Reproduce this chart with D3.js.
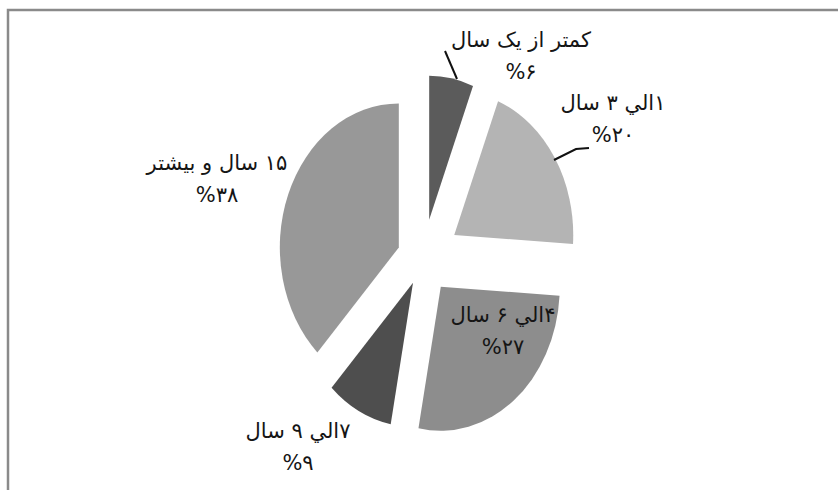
<!DOCTYPE html>
<html>
<head>
<meta charset="utf-8">
<script src="https://cdn.jsdelivr.net/npm/d3@7"></script>
<style>
  body { margin: 0; background: #fff; }
  svg { display: block; }
  text { font-family: "DejaVu Sans", sans-serif; fill: #151515; }
</style>
</head>
<body>
<svg id="chart" width="838" height="490"></svg>
<script>
// data
var categories = ["کمتر از یک سال", "۱الي ۳ سال", "۴الي ۶ سال", "۷الي ۹ سال", "۱۵ سال و بیشتر"];
var values = [6, 20, 27, 9, 38];
var valueLabels = ["%۶", "%۲۰", "%۲۷", "%۹", "%۳۸"];

// style / layout
var colors = ["#5b5b5b", "#b4b4b4", "#8d8d8d", "#4e4e4e", "#989898"];
var explode = [33, 37, 29, 22, 26];
// label anchor (centre of the two lines), relative to pie centre, and leader lines
var labelPos = [[98, -205], [190, -142], [80, 70], [-125, 186], [-206, -82]];
var leaders = [[[22, -208], [34, -180]], [[131, -99], [153, -110], [166, -111]], null, null, null];

var W = 838, H = 490;
var cx = 423, cy = 259, r = 119, ky = 1.21;

var svg = d3.select("#chart");

// frame
svg.append("rect")
    .attr("x", 8).attr("y", 10)
    .attr("width", W + 20).attr("height", H + 20)
    .attr("fill", "#fff")
    .attr("stroke", "#8a8a8a")
    .attr("stroke-width", 2.5);

var pie = d3.pie().sort(null).value(function(d){return d});
var arc = d3.arc().innerRadius(0).outerRadius(r);
var arcs = pie(values);

var slices = svg.selectAll("g.slice")
    .data(arcs)
    .enter()
    .append("g")
    .attr("class", "slice")
    .attr("transform", function(d, i){
	var mid = (d.startAngle + d.endAngle) / 2;
	var dx = explode[i] * Math.sin(mid);
	var dy = -explode[i] * Math.cos(mid) * ky;
	return "translate(" + (cx + dx) + "," + (cy + dy) + ") scale(1," + ky + ")";
    });

slices.append("path")
    .attr("d", arc)
    .attr("fill", function(d, i){return colors[i]});

// leader lines
leaders.forEach(function(pts){
    if(!pts) return;
    svg.append("path")
	.attr("d", d3.line()(pts.map(function(p){return [cx + p[0], cy + p[1]]})))
	.attr("fill", "none")
	.attr("stroke", "#111")
	.attr("stroke-width", 2);
});

// labels
var labels = svg.selectAll("g.label")
    .data(arcs)
    .enter()
    .append("g")
    .attr("class", "label")
    .attr("transform", function(d, i){
	return "translate(" + (cx + labelPos[i][0]) + "," + (cy + labelPos[i][1]) + ")";
    });

labels.append("text")
    .attr("text-anchor", "middle")
    .attr("direction", "rtl")
    .attr("font-size", 21)
    .attr("y", -7)
    .text(function(d, i){return categories[i]});

labels.append("text")
    .attr("text-anchor", "middle")
    .attr("direction", "rtl")
    .attr("font-size", 21)
    .attr("y", 25)
    .text(function(d, i){return valueLabels[i]});
</script>
</body>
</html>
